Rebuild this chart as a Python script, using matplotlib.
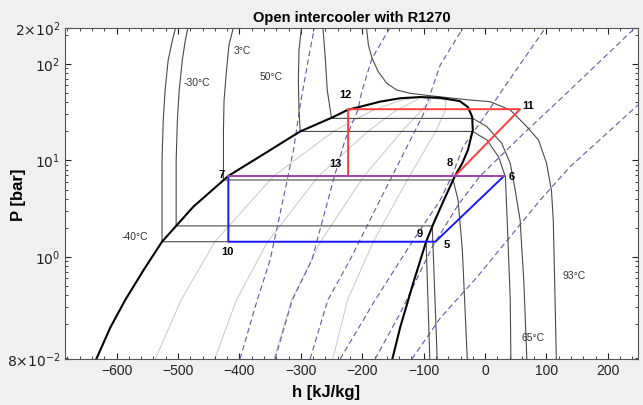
import matplotlib
matplotlib.use("Agg")
import matplotlib.pyplot as plt
from matplotlib.ticker import FixedLocator, LogLocator, MultipleLocator, NullFormatter

plt.rcParams["font.family"] = ["Liberation Sans", "DejaVu Sans"]

# saturation dome (h in kJ/kg, P in bar), liquid side then vapour side
dome_h = [-633, -610, -586, -556, -526, -503, -475, -418, -350, -325, -301, -275, -249, -223, -203,
          -171, -138, -106, -73, -41, -28, -21, -20, -28, -37, -49, -67, -85, -96, -117, -138, -151]
dome_p = [0.0877, 0.187, 0.358, 0.733, 1.44, 2.10, 3.32, 6.92, 12.8, 16.1, 20.0, 23.6, 27.9, 33.6, 36.1,
          40.7, 44.2, 45.4, 44.6, 41.2, 35.8, 28.3, 20.7, 12.8, 9.4, 6.92, 3.90, 2.15, 1.44, 0.537,
          0.189, 0.0877]

# isotherms
iso_labels = ["-40°C", "-30°C", "3°C", "50°C", "65°C", "93°C"]
iso_h = [
    [-504, -509, -516, -521, -524, -526, -526, -96, -90],
    [-484, -488, -493, -498, -501, -503, -503, -86, -78],
    [-410, -417, -421, -425, -426, -426, -52, -44, -37, -29],
    [-299, -303, -304, -303, -301, -20, 3, 22, 33, 36, 41, 42],
    [-264, -260, -257, -250, -20, 3, 27, 41, 49, 57, 63, 68],
    [-193, -190, -184, -174, -160, -144, -122, -90, -24, 8, 41, 68, 87, 100, 108, 111, 114, 116],
]
iso_p = [
    [236, 177, 110, 53.6, 26.2, 10.1, 1.44, 1.44, 0.0877],
    [236, 177, 110, 53.6, 26.2, 10.1, 2.10, 2.10, 0.0877],
    [236, 157, 86.4, 42.3, 20.7, 6.28, 6.28, 3.90, 1.18, 0.0877],
    [236, 140, 68.2, 33.4, 20.0, 20.0, 16.3, 10.9, 6.79, 2.42, 0.358, 0.0877],
    [236, 110, 53.6, 27.3, 27.3, 22.4, 15.1, 9.35, 4.95, 2.42, 0.577, 0.0877],
    [236, 157, 115, 83.2, 63.1, 53.8, 49.7, 46.9, 42.3, 40.7, 33.4, 22.4, 16.3, 9.42, 4.95, 2.42, 0.358, 0.0877],
]
iso_label_h = [-570, -469, -395, -349, 78, 145]
iso_label_p = [1.63, 63, 135, 72.5, 0.145, 0.628]

# isentropes
ent_h = [
    [-399, -371, -350, -329, -312, -301, -288, -278],
    [-342, -314, -282, -247, -228, -207, -201, -184, -155],
    [-285, -256, -220, -171, -130, -101, -73, -36],
    [-236, -179, -122, -73, -54, -36, 3, 28, 98],
    [-179, -138, -86, -44, -8, 60, 133, 244],
    [-119, -73, -13, 90, 138, 249],
]
ent_p = [
    [0.0877, 0.358, 0.931, 3.90, 12.8, 37.6, 110, 236],
    [0.0877, 0.358, 0.931, 6.28, 16.3, 33.4, 51.2, 115, 236],
    [0.0877, 0.358, 0.931, 3.90, 12.8, 29.6, 97.7, 236],
    [0.0877, 0.358, 1.33, 3.90, 6.92, 13.8, 31.0, 53.6, 236],
    [0.0877, 0.263, 1.27, 3.46, 6.92, 18.3, 50.0, 236],
    [0.0877, 0.233, 0.62, 3.90, 8.57, 37.6],
]

# constant quality lines x = 0.2, 0.4, 0.6, 0.8
qual_p = [0.0877, 0.358, 1.44, 6.92, 20.2, 32.9, 42.3, 45.4]
qual_h = [
    [-537, -495, -440, -344, -246, -184, -136, -106],
    [-440, -405, -354, -271, -190, -145, -112, -106],
    [-344, -315, -268, -197, -135, -104, -88, -106],
    [-248, -224, -182, -123, -80, -65, -64, -106],
]

# cycle state points
pt_names = ["5", "6", "7", "8", "9", "10", "11", "12", "13"]
pt_h = {"5": -81, "6": 31, "7": -418, "8": -49, "9": -85, "10": -418, "11": 57, "12": -223, "13": -223}
pt_p = {"5": 1.44, "6": 6.92, "7": 6.92, "8": 6.92, "9": 2.15, "10": 1.44, "11": 34.0, "12": 34.0, "13": 6.92}
lab_h = [-63, 44, -429, -58, -107, -420, 70, -228, -244]
lab_p = [1.33, 6.79, 7.08, 9.35, 1.73, 1.13, 36.6, 47.7, 9.2]

low_stage = ["7", "10", "5", "6"]
high_stage = ["13", "12", "11", "8"]
flash_line = ["7", "6"]

fig = plt.figure(figsize=(6.43, 4.05), dpi=100, facecolor="#f0f0f0")
ax = fig.add_axes([65 / 643, 46 / 405, 573 / 643, 331 / 405])
ax.set_facecolor("white")

for qh in qual_h:
    ax.plot(qh, qual_p, color="#c8c8c8", lw=0.7, zorder=1)
for eh, ep in zip(ent_h, ent_p):
    ax.plot(eh, ep, color="#5a5ab4", lw=0.8, dashes=(5, 3), zorder=2)
for th, tp in zip(iso_h, iso_p):
    ax.plot(th, tp, color="#4a4a4a", lw=0.8, zorder=3)
for lbl, lh, lp in zip(iso_labels, iso_label_h, iso_label_p):
    ax.text(lh, lp, lbl, fontsize=7.5, color="#333333", ha="center", va="center", zorder=6)

ax.plot(dome_h, dome_p, color="black", lw=1.5, zorder=4)

ax.plot([pt_h[k] for k in high_stage], [pt_p[k] for k in high_stage], color="#ff3c3c", lw=1.4, zorder=5)
ax.plot([pt_h[k] for k in low_stage], [pt_p[k] for k in low_stage], color="#1a1aff", lw=1.4, zorder=5)
ax.plot([pt_h[k] for k in flash_line], [pt_p[k] for k in flash_line], color="#a040a8", lw=1.4, zorder=5)

for name, lh, lp in zip(pt_names, lab_h, lab_p):
    ax.text(lh, lp, name, fontsize=8, fontweight="bold", ha="center", va="center", zorder=6)

ax.set_yscale("log")
ax.set_xlim(-684, 249)
ax.set_ylim(0.0877, 236)
ax.xaxis.set_major_locator(MultipleLocator(100))
ax.xaxis.set_minor_locator(MultipleLocator(20))
ax.yaxis.set_major_locator(FixedLocator([0.0877, 1, 10, 100, 236]))
ax.set_yticklabels([r"$8{\times}10^{-2}$", r"$10^{0}$", r"$10^{1}$", r"$10^{2}$", r"$2{\times}10^{2}$"])
ax.yaxis.set_minor_locator(LogLocator(base=10, subs=range(2, 10)))
ax.yaxis.set_minor_formatter(NullFormatter())
ax.tick_params(which="both", direction="in", top=True, right=True, labelsize=10, colors="#222222")
ax.tick_params(which="major", length=4)
ax.tick_params(which="minor", length=2)
for s in ax.spines.values():
    s.set_color("#555555")

ax.set_title("Open intercooler with R1270", fontsize=10.5, fontweight="bold", pad=4)
fig.text(326 / 643, 1 - 392 / 405, "h [kJ/kg]", fontsize=12, fontweight="bold", ha="center", va="center")
fig.text(18 / 643, 1 - 195 / 405, "P [bar]", fontsize=12, fontweight="bold", ha="center", va="center",
         rotation=90)

fig.savefig("out.png", dpi=100, facecolor=fig.get_facecolor())
